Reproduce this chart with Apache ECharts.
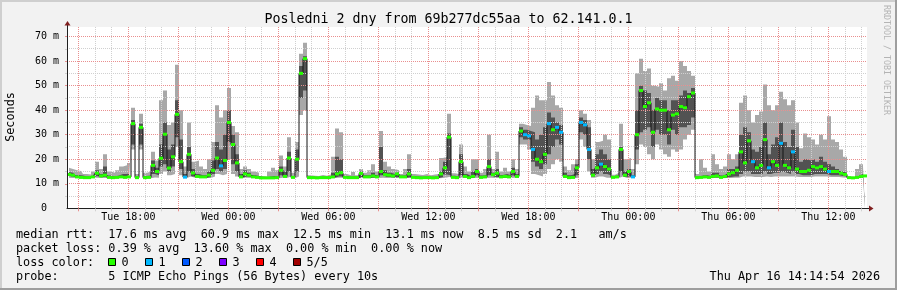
<!DOCTYPE html>
<html><head><meta charset="utf-8">
<script src="https://cdn.jsdelivr.net/npm/echarts@6/dist/echarts.min.js"></script>
<style>html,body{margin:0;padding:0;background:#f2f2f2}#c{width:897px;height:290px}</style>
</head><body><div id="c"></div>
<script>
// ---- time sampling (hours since Tue 00:00), one sample per 4px column ----
const sampleStart = 14.44;
const sampleStep = 0.24;
const xMin = 14.32, xMax = 62.32;
const yMax = 73.9;

// ---- median RTT (ms) ----
const med = [
13.8,13.5,12.8,12.6,12.5,12.5,12.8,14.3,13.2,13.5,
12.6,12.5,12.6,12.8,12.6,12.8,34.5,12.5,33.0,12.5,
12.6,17.5,15.0,20.4,30.2,16.4,21.0,38.3,19.0,12.7,
22.0,14.4,13.0,12.8,12.8,13.5,15.5,20.5,17.3,19.5,
35.0,26.0,18.5,12.8,14.0,13.5,12.8,12.6,12.4,12.4,
12.4,12.4,12.5,15.5,13.0,20.5,12.6,20.0,55.0,61.0,
12.5,12.5,12.4,12.5,12.5,12.5,12.8,14.0,14.5,12.6,
12.5,12.5,12.5,14.2,12.8,12.8,13.2,12.8,15.0,13.7,
13.5,13.2,14.0,12.8,12.8,14.0,12.6,12.5,12.4,12.5,
12.5,12.4,12.5,14.0,16.5,29.0,12.6,12.5,19.0,13.0,
12.5,13.0,15.0,12.6,12.8,17.0,13.7,14.3,12.8,13.0,
12.8,15.0,13.0,31.5,30.0,29.5,24.0,20.0,19.0,22.0,
34.5,32.0,33.0,31.0,13.0,12.5,12.6,16.5,35.0,34.0,
24.0,13.5,16.5,18.0,17.0,16.0,12.6,12.8,24.0,13.5,
15.0,12.8,30.0,48.0,41.5,43.0,31.0,40.5,40.0,40.0,
32.0,38.0,38.5,41.5,41.0,45.5,47.0,12.5,12.6,12.8,
12.6,13.0,13.2,12.6,13.0,14.0,14.5,15.5,23.0,18.5,
27.5,19.0,16.5,17.5,28.0,16.5,19.0,17.5,26.5,17.5,
16.5,23.0,16.0,15.0,15.0,15.5,17.0,16.5,17.0,16.0,
15.0,15.0,15.0,14.3,13.8,12.5,12.4,12.6,13.0,13.2
];
// ---- smoke: min ping ----
const pingMin = [
12.5,12.4,12.3,12.2,12.2,12.2,12.3,12.5,12.3,12.4,
12.2,12.2,12.2,12.3,12.2,12.3,24.0,12.2,24.0,12.2,
12.2,12.6,12.5,14.0,15.0,13.5,14.0,25.0,13.5,12.3,
13.0,12.5,12.4,12.3,12.3,12.4,13.0,14.0,13.5,14.0,
20.0,14.0,13.0,12.4,12.5,12.4,12.3,12.2,12.2,12.2,
12.2,12.2,12.2,12.5,12.3,13.0,12.2,13.0,38.0,40.0,
12.2,12.2,12.2,12.2,12.2,12.2,12.3,12.5,12.5,12.2,
12.2,12.2,12.2,12.4,12.3,12.3,12.3,12.3,12.5,12.4,
12.4,12.3,12.4,12.3,12.3,12.4,12.2,12.2,12.2,12.2,
12.2,12.2,12.2,12.4,12.6,13.0,12.2,12.2,12.5,12.3,
12.2,12.3,12.5,12.2,12.3,12.5,12.4,12.4,12.3,12.3,
12.3,12.5,12.3,26.0,26.0,24.0,14.0,13.5,13.0,14.0,
16.0,18.0,20.0,19.0,12.3,12.2,12.2,12.6,28.0,25.0,
15.0,12.5,13.0,13.0,12.5,12.5,12.2,12.3,13.0,12.4,
12.5,12.3,18.0,26.0,25.0,22.0,20.0,26.0,24.0,22.0,
21.0,24.0,23.0,24.0,28.0,30.0,32.0,12.2,12.2,12.3,
12.2,12.3,12.3,12.2,12.3,12.4,12.5,12.5,13.0,13.0,
13.0,12.8,12.8,12.8,13.0,12.8,13.0,13.0,13.0,13.0,
13.0,13.0,12.8,12.8,12.8,12.8,13.0,13.0,13.0,13.0,
12.8,12.8,12.8,12.6,12.5,12.2,12.2,12.2,12.3,12.3
];
// ---- smoke: 2nd ping (lower edge of dark band) ----
const pingLow = [
13.2,13.0,12.6,12.4,12.4,12.4,12.5,13.2,12.7,12.9,
12.4,12.4,12.4,12.5,12.4,12.5,26.0,12.4,26.0,12.4,
12.4,14.0,13.5,17.0,18.0,15.0,17.0,29.0,16.0,12.5,
15.0,13.0,12.7,12.5,12.5,12.8,14.0,16.0,15.0,16.0,
27.0,18.0,15.0,12.6,13.0,12.8,12.5,12.4,12.3,12.3,
12.3,12.3,12.4,13.5,12.6,15.0,12.4,15.0,45.0,48.0,
12.4,12.4,12.3,12.4,12.4,12.4,12.5,13.0,13.0,12.4,
12.4,12.4,12.4,12.8,12.5,12.5,12.6,12.5,13.5,12.8,
12.8,12.6,12.8,12.5,12.5,12.8,12.4,12.4,12.3,12.4,
12.4,12.3,12.4,12.8,13.8,13.5,12.4,12.4,13.5,12.6,
12.4,12.6,13.5,12.4,12.5,13.5,12.8,12.8,12.5,12.6,
12.5,13.4,12.6,29.0,28.0,28.0,19.0,17.0,16.0,18.0,
22.0,25.0,28.0,26.0,12.6,12.4,12.4,13.5,31.0,30.0,
20.0,13.0,14.0,15.0,14.0,13.5,12.4,12.5,15.0,12.8,
13.2,12.5,24.0,31.0,32.0,33.0,25.0,32.0,30.0,30.0,
26.0,32.0,30.0,33.0,33.0,34.0,37.0,12.4,12.4,12.5,
12.4,12.6,12.6,12.4,12.6,12.8,13.0,13.0,14.0,15.0,
15.0,14.0,14.0,14.0,15.0,14.0,14.5,14.5,15.0,14.5,
14.0,15.0,14.0,13.5,13.5,13.5,14.0,14.0,14.0,14.0,
13.5,13.5,13.5,13.2,13.0,12.4,12.3,12.4,12.6,12.6
];
// ---- smoke: 4th ping (upper edge of dark band) ----
const pingHigh = [
14.8,14.5,13.6,13.4,13.0,12.9,13.5,15.5,14.0,17.0,
13.4,13.0,13.4,14.0,14.0,14.5,36.0,13.0,34.5,13.2,
13.4,19.5,16.5,26.0,35.0,24.0,26.0,44.0,28.0,14.0,
25.0,16.0,14.0,13.5,13.5,15.0,19.5,27.0,24.0,30.0,
40.0,30.0,22.0,14.0,15.5,14.5,13.5,13.2,12.8,12.7,
13.0,13.2,13.0,17.0,15.0,23.0,13.2,24.0,58.0,62.0,
12.9,12.9,12.8,12.9,12.9,12.9,14.5,21.0,20.0,13.2,
12.9,13.0,12.9,15.0,13.5,13.5,14.5,13.5,25.0,15.5,
14.5,14.0,14.8,13.4,13.5,16.0,13.2,13.0,12.9,13.0,
12.9,12.9,13.0,15.0,19.0,30.5,13.3,13.0,22.0,14.0,
13.2,15.0,16.0,13.4,13.6,20.0,14.5,16.0,13.6,14.0,
13.5,16.5,14.0,33.0,32.0,31.5,31.0,28.0,30.0,33.0,
39.0,37.0,35.0,34.0,14.5,13.5,14.0,18.0,37.0,36.0,
33.0,16.0,22.0,24.0,22.0,20.0,13.2,13.5,25.0,15.0,
16.0,13.5,40.0,50.0,48.0,47.0,40.0,45.0,44.0,44.0,
40.0,44.0,44.0,46.0,48.0,47.0,49.0,13.0,13.4,13.5,
13.2,14.5,14.5,13.4,14.0,16.0,16.0,17.0,30.0,33.0,
31.0,24.0,23.0,25.0,35.0,22.0,26.0,29.0,35.0,27.0,
25.0,32.0,25.0,19.0,20.0,19.5,20.0,19.0,21.0,19.0,
18.0,17.0,16.0,15.0,14.5,12.8,12.7,13.2,14.0,14.0
];
// ---- smoke: max ping ----
const pingMax = [
16.5,16.0,15.5,15.2,14.0,13.8,15.0,19.0,16.0,22.0,
15.0,14.5,15.5,17.0,17.5,18.5,41.0,14.0,38.5,14.5,
15.0,23.0,19.5,44.0,48.0,34.0,35.0,58.5,40.0,17.0,
35.0,19.0,19.5,17.0,16.0,20.0,27.0,42.0,37.0,40.0,
49.0,33.5,31.0,16.0,17.0,16.0,15.0,14.5,13.2,13.0,
15.0,16.5,15.5,21.5,17.0,29.0,14.5,27.0,63.0,67.5,
13.5,13.3,13.2,13.6,13.3,13.8,21.0,32.5,31.0,14.0,
13.5,14.8,13.5,16.0,14.5,15.5,18.0,15.0,31.5,19.0,
17.0,16.0,15.5,14.0,16.0,22.0,14.0,13.8,13.6,14.0,
13.5,13.8,14.0,20.5,21.0,38.5,14.3,14.0,26.0,17.0,
15.0,20.0,20.0,14.5,16.0,30.0,16.0,23.0,15.0,16.5,
15.0,20.0,16.0,34.5,34.0,33.5,41.0,46.0,44.0,44.0,
51.5,46.0,42.0,41.0,17.0,15.5,18.0,20.0,40.0,38.5,
36.0,20.0,27.0,27.5,30.0,28.0,13.7,14.5,34.5,20.0,
20.5,16.0,55.0,61.0,56.0,57.0,50.0,49.5,51.0,48.0,
53.0,54.0,52.0,60.0,58.0,56.0,54.0,14.0,20.0,16.5,
15.0,22.0,18.0,16.0,17.0,22.0,20.0,22.0,43.0,46.0,
40.0,35.0,38.0,39.5,50.5,42.0,40.0,42.0,47.5,44.5,
42.0,44.0,35.0,24.5,30.5,29.0,28.0,26.0,30.0,28.0,
37.5,28.0,27.0,24.0,21.0,13.0,12.9,16.0,18.0,17.0
];
// ---- lost pings per sample (out of 5) ----
const lostPings = [
0,0,0,0,0,0,0,0,0,0, 0,0,0,0,0,0,0,0,0,0,
0,0,0,0,0,0,0,0,0,1, 0,0,0,0,0,0,0,0,1,0,
0,0,0,0,0,0,0,0,0,0, 0,0,0,0,0,0,0,0,0,0,
0,0,0,0,0,0,0,0,0,0, 0,0,0,0,0,0,0,0,0,0,
0,0,0,0,0,0,0,0,0,0, 0,0,0,0,0,0,0,0,0,0,
0,0,0,0,0,0,0,0,0,0, 0,0,0,0,1,1,1,0,0,0,
1,0,1,1,0,0,0,0,1,1, 1,0,0,1,0,0,0,0,0,0,
0,1,0,0,0,0,0,0,0,0, 0,0,0,0,0,0,0,0,0,0,
0,0,0,0,0,0,0,0,0,0, 0,1,0,0,0,1,0,0,1,0,
0,1,0,0,0,0,0,0,0,0, 1,0,0,0,0,0,0,0,0,0
];

// ---- axis ticks / labels ----
const majorGridHours = [15,18,21,24,27,30,33,36,39,42,45,48,51,54,57,60];
const minorGridHours = [16,17,19,20,22,23,25,26,28,29,31,32,34,35,37,38,40,41,43,44,46,47,49,50,52,53,55,56,58,59,61,62];
const xLabelHours = [18,24,30,36,42,48,54,60];
const xLabelTexts = ['Tue 18:00','Wed 00:00','Wed 06:00','Wed 12:00','Wed 18:00','Thu 00:00','Thu 06:00','Thu 12:00'];
const yMinorGrid = [5,15,25,35,45,55,65];
const yMajorGrid = [10,20,30,40,50,60,70];
const yLabelValues = [0,10,20,30,40,50,60,70];
const yLabelTexts = ['0  ','10 m','20 m','30 m','40 m','50 m','60 m','70 m'];

const lossNames = ['0','1','2','3','4','5/5'];
const lossColors = ['#26ff00','#00b8ff','#0059ff','#7e00ff','#ff0000','#a10000'];

const titleText = 'Posledni 2 dny from 69b277dc55aa to 62.141.0.1';
const legendLines = [
 'median rtt:  17.6 ms avg  60.9 ms max  12.5 ms min  13.1 ms now  8.5 ms sd  2.1   am/s',
 'packet loss: 0.39 % avg  13.60 % max  0.00 % min  0.00 % now',
 'loss color:',
 'probe:       5 ICMP Echo Pings (56 Bytes) every 10s'
];
const dateText = 'Thu Apr 16 14:14:54 2026';

// ---- build ----
const times = med.map((_, i) => sampleStart + i * sampleStep);
const pts = arr => arr.map((v, i) => [times[i], v]);
const mono = '"DejaVu Sans Mono", monospace';
const MINOR = '#d0d0d0';
const MAJOR = '#e98f8f';
const LIGHT = '#a8a8a8';
const DARK = '#525252';

function area(data, color) {
  return {type:'line', data: pts(data), step:'middle', symbol:'none', showSymbol:false,
    lineStyle:{width:0, opacity:0}, areaStyle:{color, opacity:1, origin:'start'},
    silent:true, z:2, emphasis:{disabled:true}};
}
// grid lines drawn through the axes' scales, snapped to pixel centres
function gridSeries(values, vertical, color, dash) {
  return {type:'custom', silent:true, z:3, clip:false,
    data: values.map(v => vertical ? [v, 0] : [xMin, v]),
    renderItem: (params, api) => {
      const cs = params.coordSys;
      const p = api.coord([api.value(0), api.value(1)]);
      const st = {stroke:color, fill:null, lineWidth:1, lineDash:dash};
      if (vertical) {
        const x = Math.floor(p[0]) + 0.5;
        return {type:'line', shape:{x1:x, y1:cs.y, x2:x, y2:cs.y + cs.height}, style:st};
      }
      const y = Math.floor(p[1]) + 0.5;
      return {type:'line', shape:{x1:cs.x, y1:y, x2:cs.x + cs.width, y2:y}, style:st};
    }};
}

const graphic = [
  {type:'rect', shape:{x:0,y:0,width:897,height:2}, style:{fill:'#cfcfcf'}, z:20},
  {type:'rect', shape:{x:0,y:0,width:2,height:290}, style:{fill:'#cfcfcf'}, z:20},
  {type:'rect', shape:{x:0,y:288,width:897,height:2}, style:{fill:'#9e9e9e'}, z:20},
  {type:'rect', shape:{x:895,y:0,width:2,height:290}, style:{fill:'#9e9e9e'}, z:20},
  {type:'text', x:448.5, y:19.5, style:{text:titleText, font:'13.3px '+mono, fill:'#000', align:'center', verticalAlign:'middle'}, z:20},
  {type:'text', x:11, y:117, rotation:Math.PI/2, style:{text:'Seconds', font:'11.8px '+mono, fill:'#000', align:'center', verticalAlign:'middle'}, z:20},
  {type:'text', x:886.5, y:60, rotation:-Math.PI/2, style:{text:'RRDTOOL / TOBI OETIKER', font:'8.3px '+mono, fill:'#b4b4b4', align:'center', verticalAlign:'middle'}, z:20},
  {type:'line', shape:{x1:67.5,y1:24,x2:67.5,y2:28}, style:{stroke:'#1f1f1f', lineWidth:1}, z:20},
  {type:'line', shape:{x1:866,y1:208.5,x2:870,y2:208.5}, style:{stroke:'#1f1f1f', lineWidth:1}, z:20},
  {type:'polygon', shape:{points:[[64.5,25.5],[67.5,21],[70.5,25.5]]}, style:{fill:'#801f1f'}, z:21},
  {type:'polygon', shape:{points:[[869,205.5],[873.5,208.5],[869,211.5]]}, style:{fill:'#801f1f'}, z:21},
  {type:'text', x:880, y:276.5, style:{text:dateText, font:'11.8px '+mono, fill:'#000', align:'right', verticalAlign:'middle'}, z:20}
];
const lineY = [234.5, 248.5, 262.5, 276.5];
legendLines.forEach((t, k) => graphic.push({type:'text', x:16, y:lineY[k], style:{text:t, font:'11.8px '+mono, fill:'#000', align:'left', verticalAlign:'middle'}, z:20}));
lossNames.forEach((n, k) => {
  graphic.push({type:'rect', shape:{x:108.5 + 37*k, y:258.5, width:7, height:7}, style:{fill:lossColors[k], stroke:'#000', lineWidth:1}, z:20});
  graphic.push({type:'text', x:121.5 + 37*k, y:262.5, style:{text:n, font:'11.8px '+mono, fill:'#000', align:'left', verticalAlign:'middle'}, z:20});
});

const chart = echarts.init(document.getElementById('c'), null, {renderer:'canvas'});
chart.setOption({
  animation:false,
  backgroundColor:'#f2f2f2',
  grid:{left:67, top:27, width:800, height:181.3, show:true, backgroundColor:'#ffffff', borderWidth:0, outerBoundsMode:'none', containLabel:false},
  xAxis:[
    {type:'value', min:xMin, max:xMax, z:6,
     axisLine:{show:true, onZero:false, lineStyle:{color:'#1f1f1f', width:1}},
     axisTick:{show:true, length:3, customValues:minorGridHours, lineStyle:{color:MINOR}},
     axisLabel:{show:false},
     splitLine:{show:false}},
    {type:'value', min:xMin, max:xMax, z:6, position:'bottom',
     axisLine:{show:false, onZero:false},
     axisTick:{show:true, length:3, customValues:majorGridHours, lineStyle:{color:MAJOR}},
     axisLabel:{show:true, customValues:xLabelHours, margin:4, color:'#000', fontFamily:mono, fontSize:10,
       formatter: v => { const k = xLabelHours.indexOf(Math.round(v)); return k >= 0 ? xLabelTexts[k] : ''; }},
     splitLine:{show:false}}
  ],
  yAxis:[
    {type:'value', min:0, max:yMax, z:6,
     axisLine:{show:true, onZero:false, lineStyle:{color:'#1f1f1f', width:1}},
     axisTick:{show:true, length:2, customValues:yMinorGrid, lineStyle:{color:MINOR}},
     axisLabel:{show:false},
     splitLine:{show:false}},
    {type:'value', min:0, max:yMax, z:6, position:'left',
     axisLine:{show:false, onZero:false},
     axisTick:{show:true, length:2, customValues:yMajorGrid, lineStyle:{color:MAJOR}},
     axisLabel:{show:true, customValues:yLabelValues, margin:8, color:'#000', fontFamily:mono, fontSize:10,
       formatter: v => { const k = yLabelValues.indexOf(Math.round(v)); return k >= 0 ? yLabelTexts[k] : ''; }},
     splitLine:{show:false}}
  ],
  series:[
    area(pingMax, LIGHT),
    area(pingHigh, DARK),
    area(pingLow, LIGHT),
    area(pingMin, '#ffffff'),
    gridSeries(minorGridHours, true, MINOR, [1,1]),
    gridSeries(yMinorGrid, false, MINOR, [1,1]),
    gridSeries(majorGridHours, true, MAJOR, [1,1]),
    gridSeries(yMajorGrid, false, MAJOR, [1,1]),
    {type:'line', data: pts(med), step:'middle', symbol:'none', showSymbol:false,
     lineStyle:{color:'#141414', width:1}, silent:true, z:4, emphasis:{disabled:true}},
    {type:'scatter', data: med.map((v, i) => [times[i], v, lostPings[i]]), symbol:'rect', symbolSize:[4,3],
     itemStyle:{color: p => lossColors[p.data[2]], opacity:1}, silent:true, z:5, emphasis:{disabled:true}}
  ],
  graphic: graphic
});
</script></body></html>
